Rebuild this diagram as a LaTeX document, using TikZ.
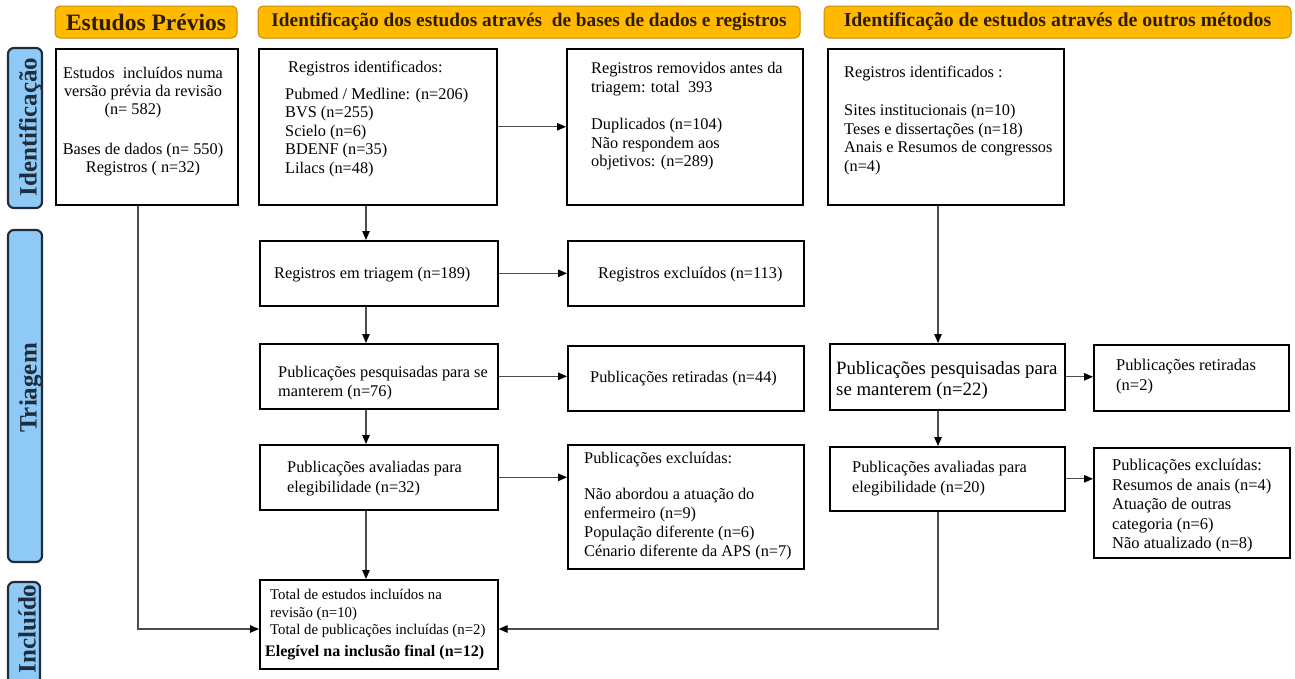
\documentclass[tikz,border=0pt]{standalone}
\usepackage{fontspec}
\setmainfont{Liberation Serif}
\usetikzlibrary{arrows.meta}
\definecolor{laranja}{HTML}{FFBA00}
\definecolor{laranjaborda}{HTML}{C88A00}
\definecolor{textocabec}{HTML}{2E1C00}
\definecolor{azul}{HTML}{8FCAF6}
\definecolor{azulborda}{HTML}{1E2C3C}

\begin{document}
\begin{tikzpicture}[x=1pt,y=-1pt,
  caixa/.style={draw=black, line width=1.6pt, anchor=north west, inner sep=0pt},
  texto/.style={anchor=north west, align=left, inner sep=0pt, font=\fontsize{16.3}{18.5}\selectfont},
  cabec/.style={draw=laranjaborda, fill=laranja, rounded corners=5pt, line width=1pt, minimum height=32pt,
    text=textocabec, font=\bfseries\fontsize{19.3}{22}\selectfont},
  lado/.style={draw=azulborda, fill=azul, rounded corners=6pt, line width=2.2pt, rotate=90, minimum height=34pt},
  ladotexto/.style={rotate=90, anchor=base, inner sep=0pt, text=azulborda, font=\bfseries\fontsize{25}{27}\selectfont},
  seta/.style={-{Triangle[length=9pt,width=7.5pt,color=black]}, line width=1.1pt, draw=black!70}]
\useasboundingbox (0,0) rectangle (1295,678);

% cabecalhos
\node[cabec, minimum width=182pt, font=\bfseries\fontsize{23.5}{26}\selectfont] (cPrev) at (146,22) {Estudos Prévios};
\node[cabec, minimum width=542pt] (cBases) at (529,22) {Identificação dos estudos através \ de bases de dados e registros};
\node[cabec, minimum width=467pt, font=\bfseries\fontsize{19.8}{22}\selectfont] (cOutros) at (1057.5,22) {Identificação de estudos através de outros métodos};

% etapas
\node[lado, minimum width=160pt] (lIdent) at (25,128) {};
\node[lado, minimum width=332pt] (lTriag) at (25,396) {};
\node[lado, minimum width=104pt, minimum height=32pt] (lIncl) at (24,634) {};
\node[ladotexto] (tIdent) at (36.5,127) {Identificação};
\node[ladotexto] (tTriag) at (36.5,388) {Triagem};
\node[ladotexto] (tIncl) at (35.5,629) {Incluído};

% caixas
\node[caixa, minimum width=182pt, minimum height=156pt] (prev) at (55,48) {};
\node[caixa, minimum width=238pt, minimum height=156pt] (regid) at (258,48) {};
\node[caixa, minimum width=236pt, minimum height=156pt] (remov) at (566,48) {};
\node[caixa, minimum width=236pt, minimum height=156pt] (outid) at (827,48) {};
\node[caixa, minimum width=238pt, minimum height=65pt] (triag) at (259,240) {};
\node[caixa, minimum width=236pt, minimum height=65pt] (excl) at (567,240) {};
\node[caixa, minimum width=238pt, minimum height=65pt] (pesqA) at (259,343) {};
\node[caixa, minimum width=236pt, minimum height=65pt] (retA) at (567,345) {};
\node[caixa, minimum width=235pt, minimum height=66pt] (pesqB) at (829,343) {};
\node[caixa, minimum width=195pt, minimum height=66pt] (retB) at (1093,344) {};
\node[caixa, minimum width=238pt, minimum height=65pt] (avalA) at (259,444) {};
\node[caixa, minimum width=236pt, minimum height=124pt] (exclA) at (567,444) {};
\node[caixa, minimum width=235pt, minimum height=64pt] (avalB) at (829,446) {};
\node[caixa, minimum width=196pt, minimum height=110pt] (exclB) at (1093,447) {};
\node[caixa, minimum width=238pt, minimum height=89pt] (final) at (259,579) {};

% textos
\node[texto, anchor=north, align=center, font=\fontsize{16.3}{18}\selectfont] (tPrev) at (143,67) {Estudos \ incluídos numa\\versão prévia da revisão\\\hspace*{-20pt}(n= 582)\\[22pt]Bases de dados (n= 550)\\Registros ( n=32)};
\node[texto] (tRegid) at (285,60.5) {\hspace*{3pt}Registros identificados:\\[8.5pt]Pubmed / Medline: (n=206)\\BVS (n=255)\\Scielo (n=6)\\BDENF (n=35)\\Lilacs (n=48)};
\node[texto] (tRemov) at (591,62) {Registros removidos antes da\\triagem: total \ 393\\[19pt]Duplicados (n=104)\\Não respondem aos\\objetivos: (n=289)};
\node[texto, font=\fontsize{16.3}{18.7}\selectfont] (tOutid) at (844,66) {Registros identificados :\\[19pt]Sites institucionais (n=10)\\Teses e dissertações (n=18)\\Anais e Resumos de congressos\\(n=4)};
\node[texto] (tTriag) at (274,267) {Registros em triagem (n=189)};
\node[texto] (tExcl) at (598,267) {Registros excluídos (n=113)};
\node[texto] (tPesqA) at (278,366) {Publicações pesquisadas para se\\manterem (n=76)};
\node[texto] (tRetA) at (590,371) {Publicações retiradas (n=44)};
\node[texto, font=\fontsize{18.8}{21}\selectfont] (tPesqB) at (836,361) {Publicações pesquisadas para\\se manterem (n=22)};
\node[texto, font=\fontsize{16.5}{20}\selectfont] (tRetB) at (1116,359) {Publicações retiradas\\(n=2)};
\node[texto, font=\fontsize{16.3}{19.5}\selectfont] (tAvalA) at (287,461) {Publicações avaliadas para\\elegibilidade (n=32)};
\node[texto, font=\fontsize{16.3}{19}\selectfont] (tExclA) at (584,452) {Publicações excluídas:\\[17pt]Não abordou a atuação do\\enfermeiro (n=9)\\População diferente (n=6)\\Cénario diferente da APS (n=7)};
\node[texto, font=\fontsize{16.3}{19.5}\selectfont] (tAvalB) at (852,461) {Publicações avaliadas para\\elegibilidade (n=20)};
\node[texto, font=\fontsize{16.5}{19.5}\selectfont] (tExclB) at (1112,459) {Publicações excluídas:\\Resumos de anais (n=4)\\Atuação de outras\\categoria (n=6)\\Não atualizado (n=8)};
\node[texto, font=\fontsize{14.8}{17.5}\selectfont] (tFinal) at (270,589) {Total de estudos incluídos na\\revisão (n=10)\\Total de publicações incluídas (n=2)\\[4pt]{\bfseries\fontsize{16}{18}\selectfont\hspace*{-5pt}Elegível na inclusão final (n=12)}};

% conectores
\coordinate (eixoE) at (138,629);
\coordinate (eixoC) at (366,0);
\coordinate (eixoD) at (938,629);
\draw[seta] (prev.south -| eixoE) |- (final.west |- eixoE);
\draw[seta] (regid.east) -- (regid.east -| remov.west);
\draw[seta] (regid.south -| eixoC) -- (triag.north -| eixoC);
\draw[seta] (triag.east) -- (triag.east -| excl.west);
\draw[seta] (triag.south -| eixoC) -- (pesqA.north -| eixoC);
\draw[seta] (pesqA.east) -- (pesqA.east -| retA.west);
\draw[seta] (pesqA.south -| eixoC) -- (avalA.north -| eixoC);
\draw[seta] (avalA.east) -- (avalA.east -| exclA.west);
\draw[seta] (avalA.south -| eixoC) -- (final.north -| eixoC);
\draw[seta] (outid.south -| eixoD) -- (pesqB.north -| eixoD);
\draw[seta] (pesqB.east) -- (pesqB.east -| retB.west);
\draw[seta] (pesqB.south -| eixoD) -- (avalB.north -| eixoD);
\draw[seta] (avalB.east) -- (avalB.east -| exclB.west);
\draw[seta] (avalB.south -| eixoD) |- (final.east |- eixoD);
\end{tikzpicture}
\end{document}
